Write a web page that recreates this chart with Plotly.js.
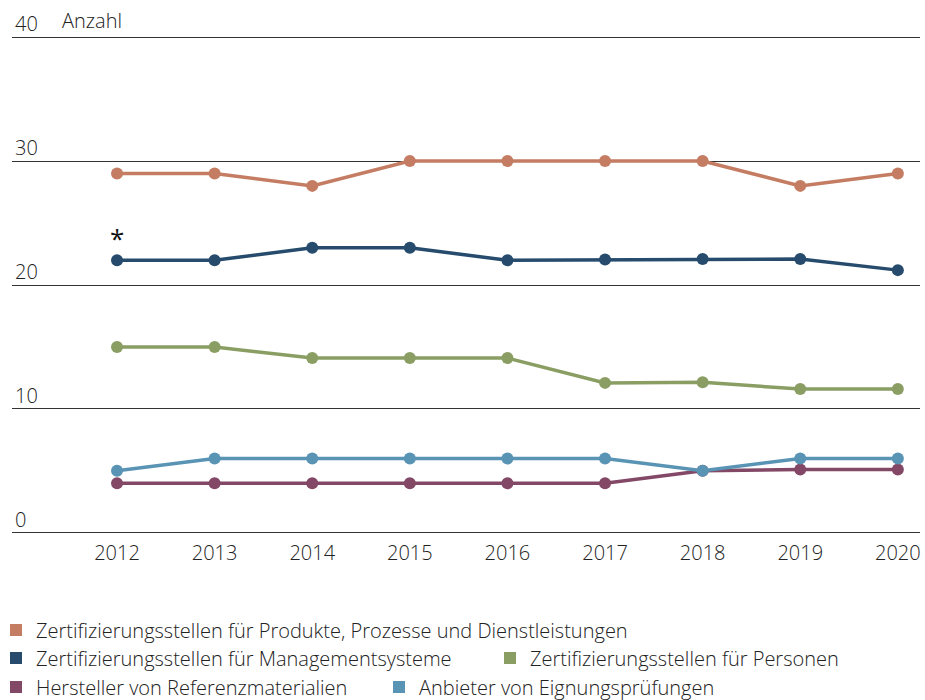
<!DOCTYPE html>
<html>
<head>
<meta charset="utf-8">
<script src="https://cdn.plot.ly/plotly-3.0.1.min.js"></script>
<style>html,body{margin:0;padding:0;background:#fff;}#chart{width:925px;height:700px;}</style>
</head>
<body>
<div id="chart"></div>
<script>
// ---- data ----
var years = ['2012','2013','2014','2015','2016','2017','2018','2019','2020'];
var seriesNames = [
  'Zertifizierungsstellen für Produkte, Prozesse und Dienstleistungen',
  'Zertifizierungsstellen für Managementsysteme',
  'Zertifizierungsstellen für Personen',
  'Hersteller von Referenzmaterialien',
  'Anbieter von Eignungsprüfungen'
];
var produkte      = [29, 29, 28, 30, 30, 30, 30, 28, 29];
var management    = [22, 22, 23, 23, 22, 22.05, 22.1, 22.1, 21.2];
var personen      = [15, 15, 14.1, 14.1, 14.1, 12.1, 12.15, 11.6, 11.6];
var referenz      = [4, 4, 4, 4, 4, 4, 5, 5.1, 5.1];
var eignung       = [5, 6, 6, 6, 6, 6, 5, 6, 6];
var yTickVals  = [0, 10, 20, 30, 40];
var yTickText  = ['0', '10', '20', '30', '40'];
var yUnit = 'Anzahl';
var footnoteMark = '*';

// ---- styles ----
var colors = ['#C47C62', '#264B6C', '#8A9E64', '#824866', '#5A94B5'];
var legendOf = ['legend', 'legend2', 'legend4', 'legend3', 'legend3'];
var values = [produkte, management, personen, referenz, eignung];
var FONT = '"Open Sans", Lato, sans-serif';

var traces = [];
for (var k = 0; k < values.length; k++) {
  traces.push({
    type: 'scatter', mode: 'lines+markers',
    x: years, y: values[k], name: seriesNames[k],
    line: {color: colors[k], width: 3.5},
    marker: {color: colors[k], size: 12},
    showlegend: false, hoverinfo: 'x+y'
  });
}
// legend entries (square swatches)
for (var i = 0; i < seriesNames.length; i++) {
  traces.push({
    type: 'scatter', mode: 'markers',
    x: [null], y: [null], name: seriesNames[i],
    marker: {color: colors[i], size: 12, symbol: 'square'},
    legend: legendOf[i], showlegend: true, hoverinfo: 'skip'
  });
}

var txtFont = {family: FONT, size: 20, color: '#222', weight: 300};
var legendBase = {
  orientation: 'h', xref: 'container', yref: 'container',
  xanchor: 'left', yanchor: 'middle', indentation: -4,
  font: txtFont,
  bgcolor: 'rgba(0,0,0,0)', borderwidth: 0,
  itemclick: false, itemdoubleclick: false, tracegroupgap: 0
};

var layout = {
  width: 925, height: 700,
  margin: {l: 12, r: 5, t: 30.8, b: 160.8, pad: 0},
  paper_bgcolor: '#fff', plot_bgcolor: '#fff',
  font: txtFont,
  xaxis: {
    type: 'category', range: [-1.076, 8.227],
    showgrid: false, zeroline: false, showline: false,
    ticks: '', tickfont: txtFont,
    fixedrange: true
  },
  yaxis: {
    range: [-0.5, 40.5],
    tickvals: yTickVals, ticktext: yTickText,
    showgrid: true, gridcolor: '#333333', gridwidth: 1,
    zeroline: false, showline: false, ticks: '',
    ticklabelposition: 'inside', ticklabelshift: -13, ticklabelstandoff: 0,
    ticklabeloverflow: 'allow',
    tickfont: txtFont,
    fixedrange: true
  },
  legend:  Object.assign({}, legendBase, {x: 0, y: 1 - 630/700}),
  legend2: Object.assign({}, legendBase, {x: 0, y: 1 - 658/700}),
  legend4: Object.assign({}, legendBase, {x: 494/925, y: 1 - 658/700}),
  legend3: Object.assign({}, legendBase, {x: 0, y: 1 - 687/700, entrywidth: 342, entrywidthmode: 'pixels'}),
  annotations: [
    {xref: 'paper', yref: 'y', x: 0, y: yTickVals[yTickVals.length - 1], xshift: 48, yshift: 1,
     xanchor: 'left', yanchor: 'bottom', text: yUnit, showarrow: false,
     font: txtFont},
    {xref: 'x', yref: 'y', x: years.indexOf(years[0]), y: management[0], yshift: 22,
     xanchor: 'center', yanchor: 'middle', text: footnoteMark, showarrow: false,
     font: {family: FONT, size: 26, color: '#111', weight: 400}}
  ],
  showlegend: true,
  hovermode: 'closest'
};

Plotly.newPlot('chart', traces, layout, {displayModeBar: false});
</script>
</body>
</html>
